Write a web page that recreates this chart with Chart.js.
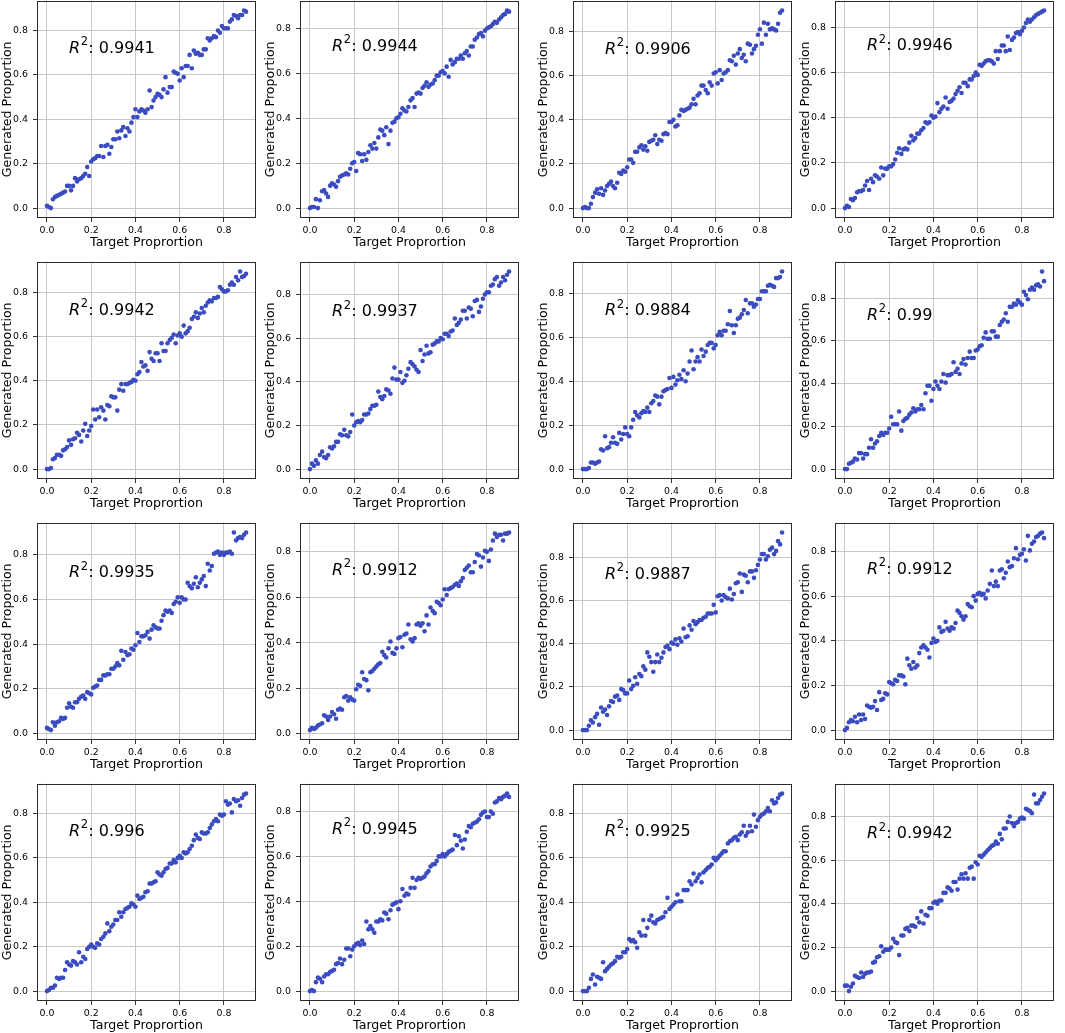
<!DOCTYPE html>
<html><head><meta charset="utf-8">
<script src="https://cdn.jsdelivr.net/npm/chart.js@4.4.0/dist/chart.umd.min.js"></script>
<style>
html,body{margin:0;padding:0;background:#fff;width:1065px;height:1033px;overflow:hidden;position:relative;}
.cell{position:absolute;}
canvas{display:block;}
</style></head><body>
<script>
// ---------------- data ----------------
const targetProportion = [0,.009,.018,.027,.036,.045,.055,.064,.073,.082,
.091,.1,.109,.118,.127,.136,.145,.155,.164,.173,
.182,.191,.2,.209,.218,.227,.236,.245,.255,.264,
.273,.282,.291,.3,.309,.318,.327,.336,.345,.355,
.364,.373,.382,.391,.4,.409,.418,.427,.436,.445,
.455,.464,.473,.482,.491,.5,.509,.518,.527,.536,
.545,.555,.564,.573,.582,.591,.6,.609,.618,.627,
.636,.645,.655,.664,.673,.682,.691,.7,.709,.718,
.727,.736,.745,.755,.764,.773,.782,.791,.8,.809,
.818,.827,.836,.845,.855,.864,.873,.882,.891,.9];

const generated01 = [.01,.005,0,.04,.05,.055,.06,.065,.07,.075,
.1,.1,.08,.1,.135,.12,.13,.135,.145,.155,
.185,.145,.21,.22,.225,.235,.235,.28,.23,.28,
.285,.245,.275,.31,.31,.345,.315,.35,.365,.325,
.36,.345,.385,.41,.445,.41,.435,.445,.44,.43,
.445,.53,.455,.485,.5,.515,.51,.5,.535,.59,
.52,.545,.545,.615,.61,.605,.575,.63,.59,.64,
.64,.69,.63,.71,.695,.7,.69,.69,.715,.715,
.765,.755,.765,.775,.77,.8,.79,.82,.81,.81,
.81,.84,.85,.87,.865,.855,.87,.87,.89,.885];

const generated02 = [0,.005,.005,.04,0,.035,.075,.08,.065,.05,
.1,.11,.105,.095,.12,.14,.145,.15,.155,.15,
.175,.2,.205,.165,.245,.24,.21,.24,.215,.25,
.28,.265,.29,.265,.315,.35,.345,.325,.36,.285,
.345,.38,.385,.4,.405,.42,.445,.435,.43,.45,
.48,.49,.45,.51,.515,.51,.535,.545,.56,.54,
.55,.555,.57,.59,.59,.605,.61,.6,.63,.585,
.66,.64,.65,.665,.665,.68,.665,.69,.7,.68,
.72,.72,.75,.76,.775,.78,.765,.79,.8,.805,
.81,.82,.83,.825,.84,.85,.86,.865,.88,.875];

const generated03 = [0,.005,0,0,.02,.05,.07,.085,.065,.09,
.06,.08,.1,.11,.12,.1,.09,.115,.16,.155,
.17,.165,.185,.22,.22,.205,.255,.255,.275,.285,
.265,.28,.26,.3,.305,.31,.33,.29,.31,.305,
.335,.34,.335,.39,.39,.4,.37,.375,.42,.445,
.44,.445,.45,.455,.47,.495,.47,.51,.52,.555,
.555,.535,.52,.57,.555,.61,.615,.565,.625,.58,
.61,.615,.625,.67,.665,.69,.65,.7,.72,.68,
.695,.665,.745,.74,.7,.72,.735,.785,.81,.745,
.84,.785,.835,.81,.815,.81,.805,.835,.885,.895];

const generated04 = [0,.01,.005,.04,.035,.045,.07,.075,.075,.08,
.1,.12,.08,.13,.115,.145,.14,.13,.18,.145,
.175,.175,.185,.185,.195,.215,.245,.265,.24,.26,
.265,.26,.29,.32,.3,.31,.33,.33,.345,.355,
.38,.375,.38,.41,.4,.405,.465,.425,.44,.45,
.49,.44,.47,.475,.485,.505,.52,.535,.51,.555,
.555,.54,.57,.57,.585,.6,.59,.635,.63,.64,
.65,.655,.655,.65,.64,.695,.66,.695,.72,.72,
.695,.76,.7,.745,.755,.775,.78,.77,.785,.8,
.82,.835,.825,.835,.845,.855,.86,.865,.87,.875];

const generated05 = [0,0,.005,.045,.05,.065,.065,.06,.085,.09,
.1,.13,.11,.135,.14,.165,.155,.125,.175,.205,
.15,.175,.195,.27,.225,.27,.235,.28,.265,.225,
.29,.285,.33,.325,.325,.265,.36,.385,.355,.385,
.385,.39,.395,.405,.4,.43,.44,.485,.465,.47,
.445,.53,.5,.49,.525,.525,.49,.57,.535,.535,
.57,.585,.595,.61,.57,.605,.615,.6,.65,.615,
.625,.64,.68,.69,.71,.685,.705,.73,.71,.74,
.755,.765,.76,.775,.775,.78,.825,.815,.805,.805,
.81,.835,.845,.835,.87,.855,.895,.87,.875,.885];

const generated06 = [0,.025,.015,.04,.025,.065,.08,.055,.05,.065,
.1,.095,.105,.125,.125,.16,.155,.18,.155,.15,
.17,.25,.2,.215,.22,.215,.225,.25,.25,.255,
.275,.29,.29,.295,.355,.33,.32,.335,.365,.36,
.345,.415,.465,.41,.41,.445,.395,.405,.43,.46,
.49,.48,.47,.455,.445,.545,.495,.525,.565,.53,
.535,.57,.575,.585,.585,.6,.595,.62,.62,.61,
.63,.635,.69,.66,.67,.685,.725,.725,.69,.74,
.735,.7,.77,.775,.72,.745,.78,.8,.81,.81,
.84,.845,.87,.88,.84,.855,.88,.865,.89,.905];

const generated07 = [0,0,0,.005,.03,.03,.025,.03,.035,.09,
.085,.15,.095,.1,.12,.145,.12,.115,.165,.135,
.16,.19,.16,.15,.19,.225,.26,.245,.235,.255,
.265,.26,.28,.26,.3,.31,.335,.33,.295,.33,
.355,.36,.365,.415,.37,.42,.385,.405,.43,.41,
.45,.4,.435,.49,.54,.455,.49,.51,.49,.545,
.515,.535,.565,.575,.575,.55,.565,.61,.625,.61,
.63,.63,.66,.72,.655,.62,.655,.685,.69,.705,
.725,.77,.71,.755,.755,.74,.75,.775,.775,.81,
.81,.81,.835,.84,.835,.83,.87,.87,.875,.9];

const generated08 = [0,0,.025,.03,.035,.05,.045,.075,.075,.05,
.07,.07,.1,.14,.1,.12,.13,.155,.17,.16,
.17,.17,.19,.245,.21,.21,.21,.27,.18,.225,
.235,.24,.255,.265,.285,.27,.28,.28,.3,.28,
.355,.39,.39,.32,.375,.41,.39,.375,.41,.445,
.405,.44,.44,.445,.5,.455,.47,.445,.495,.515,
.49,.52,.55,.52,.52,.555,.56,.575,.58,.615,
.64,.61,.61,.645,.645,.62,.62,.675,.69,.7,
.73,.69,.76,.76,.775,.77,.79,.78,.77,.83,
.815,.795,.84,.85,.84,.86,.865,.855,.925,.88];

const generated09 = [.025,.02,.015,.05,.035,.05,.055,.07,.065,.07,
.115,.135,.12,.115,.14,.14,.155,.165,.17,.155,
.185,.18,.175,.205,.21,.215,.24,.24,.26,.26,
.265,.265,.29,.29,.3,.315,.305,.37,.33,.365,
.35,.355,.38,.375,.395,.45,.41,.435,.435,.44,
.455,.425,.465,.485,.475,.47,.47,.505,.53,.55,
.545,.55,.54,.58,.59,.61,.585,.61,.6,.6,
.675,.66,.65,.67,.7,.655,.675,.69,.705,.66,
.76,.73,.75,.805,.81,.815,.8,.81,.8,.81,
.81,.815,.805,.9,.865,.875,.88,.875,.89,.9];

const generated10 = [.015,.025,.02,.025,.035,.04,.045,.08,.075,.06,
.075,.095,.085,.065,.105,.11,.105,.16,.165,.145,
.16,.15,.145,.195,.215,.21,.27,.24,.235,.19,
.27,.275,.285,.295,.305,.31,.36,.345,.335,.375,
.405,.355,.35,.375,.42,.425,.38,.435,.44,.48,
.415,.405,.42,.48,.485,.475,.485,.45,.52,.48,
.555,.54,.53,.58,.575,.565,.59,.635,.61,.635,
.64,.645,.655,.66,.65,.67,.685,.72,.73,.74,
.71,.71,.755,.79,.785,.735,.775,.805,.8,.76,
.81,.85,.88,.865,.875,.875,.85,.88,.88,.885];

const generated11 = [0,0,0,.02,.045,.035,.06,.075,.025,.105,
.085,.095,.07,.11,.135,.13,.155,.16,.14,.19,
.185,.17,.17,.23,.19,.205,.245,.215,.26,.25,
.295,.28,.36,.34,.315,.27,.315,.35,.315,.335,
.36,.385,.39,.375,.405,.4,.42,.395,.425,.41,
.47,.43,.435,.485,.465,.505,.49,.5,.51,.51,
.52,.525,.54,.54,.54,.58,.545,.62,.625,.6,
.625,.615,.61,.655,.605,.63,.68,.685,.725,.64,
.72,.715,.685,.735,.735,.705,.74,.765,.79,.815,
.815,.79,.805,.835,.845,.815,.83,.875,.86,.915];

const generated12 = [0,.01,.035,.045,.04,.06,.035,.07,.045,.07,
.05,.11,.105,.1,.105,.13,.09,.17,.135,.14,
.165,.16,.215,.21,.205,.225,.22,.245,.245,.24,
.205,.32,.29,.275,.305,.28,.29,.345,.37,.38,
.37,.36,.325,.39,.41,.395,.4,.46,.44,.445,
.485,.455,.445,.46,.455,.48,.535,.525,.51,.495,
.51,.565,.555,.55,.6,.58,.61,.615,.605,.61,
.59,.625,.655,.715,.645,.665,.645,.715,.72,.68,
.705,.755,.73,.735,.77,.815,.765,.785,.79,.81,
.76,.87,.805,.835,.845,.865,.87,.88,.885,.86];

const generated13 = [0,.005,.015,.015,.025,.06,.055,.06,.06,.095,
.13,.12,.115,.135,.13,.12,.175,.13,.155,.145,
.19,.2,.21,.2,.195,.215,.21,.235,.245,.26,
.305,.27,.29,.3,.32,.32,.355,.335,.355,.37,
.375,.38,.395,.39,.38,.43,.415,.42,.425,.445,
.45,.485,.485,.49,.495,.535,.525,.52,.535,.55,
.555,.575,.575,.59,.58,.6,.61,.6,.625,.62,
.625,.64,.655,.68,.705,.69,.685,.715,.71,.71,
.715,.735,.75,.765,.775,.765,.795,.79,.795,.855,
.84,.845,.805,.865,.855,.86,.835,.87,.885,.89];

const generated14 = [0,.005,0,.04,.06,.055,.04,.065,.075,.075,
.085,.09,.095,.12,.125,.145,.12,.14,.19,.19,
.155,.185,.2,.21,.215,.205,.225,.21,.31,.275,
.29,.275,.26,.31,.31,.32,.315,.35,.345,.32,
.36,.385,.39,.395,.365,.4,.455,.425,.435,.43,
.46,.505,.46,.495,.505,.5,.505,.51,.525,.535,
.555,.565,.565,.58,.6,.6,.61,.6,.61,.62,
.625,.63,.695,.65,.69,.67,.635,.675,.71,.735,
.73,.745,.75,.755,.765,.785,.795,.8,.775,.775,
.8,.79,.84,.845,.86,.855,.865,.87,.88,.865];

const generated15 = [0,0,0,.015,.055,.075,.03,.065,.06,.055,
.13,.09,.1,.11,.12,.125,.135,.155,.15,.155,
.175,.175,.19,.235,.225,.23,.22,.195,.265,.25,
.32,.25,.285,.32,.34,.31,.305,.32,.325,.33,
.335,.355,.42,.37,.38,.39,.4,.435,.405,.405,
.455,.455,.455,.495,.48,.53,.495,.51,.525,.49,
.535,.545,.555,.56,.57,.6,.59,.6,.61,.62,
.63,.63,.665,.675,.68,.69,.695,.68,.705,.715,
.745,.7,.715,.745,.72,.795,.74,.77,.785,.795,
.8,.81,.825,.81,.86,.845,.85,.87,.885,.89];

const generated16 = [.025,.025,0,.02,.035,.07,.065,.06,.085,.065,
.08,.085,.085,.09,.13,.135,.155,.16,.205,.18,
.19,.19,.19,.2,.24,.225,.22,.165,.255,.255,
.285,.29,.275,.3,.3,.295,.335,.315,.365,.31,
.35,.345,.38,.38,.405,.41,.4,.415,.415,.45,
.45,.475,.47,.46,.5,.5,.465,.515,.535,.515,
.54,.515,.565,.57,.515,.59,.58,.62,.615,.625,
.635,.645,.655,.665,.67,.685,.675,.72,.695,.745,
.745,.775,.8,.77,.755,.77,.775,.79,.795,.79,
.835,.83,.825,.815,.9,.86,.86,.875,.89,.905];

const generatedSeries = [generated01,generated02,generated03,generated04,
  generated05,generated06,generated07,generated08,
  generated09,generated10,generated11,generated12,
  generated13,generated14,generated15,generated16];

const r2Values = ['0.9941','0.9944','0.9906','0.9946',
  '0.9942','0.9937','0.9884','0.99',
  '0.9935','0.9912','0.9887','0.9912',
  '0.996','0.9945','0.9925','0.9942'];

const tickValues = [0, 0.2, 0.4, 0.6, 0.8];
const xTitle = 'Target Proprortion';
const yTitle = 'Generated Proportion';

// ---------------- layout / style ----------------
const colLeft = [37, 300, 573, 835];
const rowTop = [0, 261, 522, 783];
const AX_W = 219, AX_H = 218;
const Y_W = 37, X_H = 40, PAD_T = 10, PAD_R = 8;
const FONT = '"DejaVu Sans", "Liberation Sans", sans-serif';
const DOT = '#3b4cc0';
const ANNOT_AT = {x: 0.1, y: 0.7};

const framePlugin = {
  id: 'frame',
  afterDraw(chart) {
    const {ctx, chartArea: a} = chart;
    ctx.save();
    ctx.strokeStyle = '#2b2b2b';
    ctx.lineWidth = 1;
    ctx.strokeRect(Math.round(a.left) + 0.5, Math.round(a.top) + 0.5,
      Math.round(a.right - a.left) - 1, Math.round(a.bottom - a.top) - 1);
    ctx.restore();
  }
};

const r2Plugin = {
  id: 'r2text',
  afterDatasetsDraw(chart, args, opts) {
    const {ctx, scales} = chart;
    const x = scales.x.getPixelForValue(ANNOT_AT.x);
    const y = scales.y.getPixelForValue(ANNOT_AT.y);
    ctx.save();
    ctx.fillStyle = '#000';
    ctx.textBaseline = 'alphabetic';
    ctx.textAlign = 'left';
    ctx.font = 'italic 16px ' + FONT;
    ctx.fillText('R', x, y);
    let cx = x + ctx.measureText('R').width + 0.5;
    ctx.font = '11.5px ' + FONT;
    ctx.fillText('2', cx, y - 7.5);
    cx += ctx.measureText('2').width + 0.3;
    ctx.font = '16px ' + FONT;
    ctx.fillText(': ' + opts.label, cx, y);
    ctx.restore();
  }
};

function limits(arr) {
  let mn = Math.min(...arr), mx = Math.max(...arr);
  const r = mx - mn;
  return {min: mn - 0.05 * r, max: mx + 0.05 * r};
}

const xl = limits(targetProportion);

generatedSeries.forEach((ys, i) => {
  const r = Math.floor(i / 4), c = i % 4;
  const div = document.createElement('div');
  div.className = 'cell';
  const W = Y_W + AX_W + PAD_R, H = PAD_T + AX_H + X_H;
  div.style.left = (colLeft[c] - Y_W) + 'px';
  div.style.top = (rowTop[r] - PAD_T) + 'px';
  div.style.width = W + 'px';
  div.style.height = H + 'px';
  const cv = document.createElement('canvas');
  cv.width = W; cv.height = H;
  cv.style.width = W + 'px'; cv.style.height = H + 'px';
  div.appendChild(cv);
  document.body.appendChild(div);

  const n = Math.min(ys.length, targetProportion.length);
  const pts = [];
  for (let k = 0; k < n; k++) pts.push({x: targetProportion[k], y: ys[k]});
  const yl = limits(ys);

  const tickFont = {family: FONT, size: 9.4};
  const titleFont = {family: FONT, size: 12.6};

  new Chart(cv.getContext('2d'), {
    type: 'scatter',
    data: {datasets: [{data: pts, backgroundColor: DOT, borderColor: DOT,
      borderWidth: 0, pointRadius: 2.3, pointHoverRadius: 2.3}]},
    options: {
      responsive: false, animation: false, events: [],
      layout: {padding: {top: PAD_T, right: PAD_R, left: 0, bottom: 0}},
      plugins: {legend: {display: false}, tooltip: {enabled: false}, r2text: {label: r2Values[i]}},
      scales: {
        x: {
          type: 'linear', position: 'bottom', min: xl.min, max: xl.max,
          afterBuildTicks: s => { s.ticks = tickValues.map(v => ({value: v})); },
          afterFit: s => { s.height = X_H; },
          ticks: {font: tickFont, color: '#000', padding: 3, maxRotation: 0, autoSkip: false,
            callback: v => Number(v).toFixed(1)},
          grid: {color: '#c8c8c8', lineWidth: 1, tickColor: '#333', tickLength: 4, tickWidth: 1},
          border: {display: false},
          title: {display: true, text: xTitle, font: titleFont, color: '#000', padding: {top: 0, bottom: 8}}
        },
        y: {
          type: 'linear', position: 'left', min: yl.min, max: yl.max,
          afterBuildTicks: s => { s.ticks = tickValues.map(v => ({value: v})); },
          afterFit: s => { s.width = Y_W; },
          ticks: {font: tickFont, color: '#000', padding: 5, autoSkip: false,
            callback: v => Number(v).toFixed(1)},
          grid: {color: '#c8c8c8', lineWidth: 1, tickColor: '#333', tickLength: 4, tickWidth: 1},
          border: {display: false},
          title: {display: true, text: yTitle, font: titleFont, color: '#000', padding: {top: 0, bottom: 0}}
        }
      }
    },
    plugins: [framePlugin, r2Plugin]
  });
});
</script>
</body></html>
